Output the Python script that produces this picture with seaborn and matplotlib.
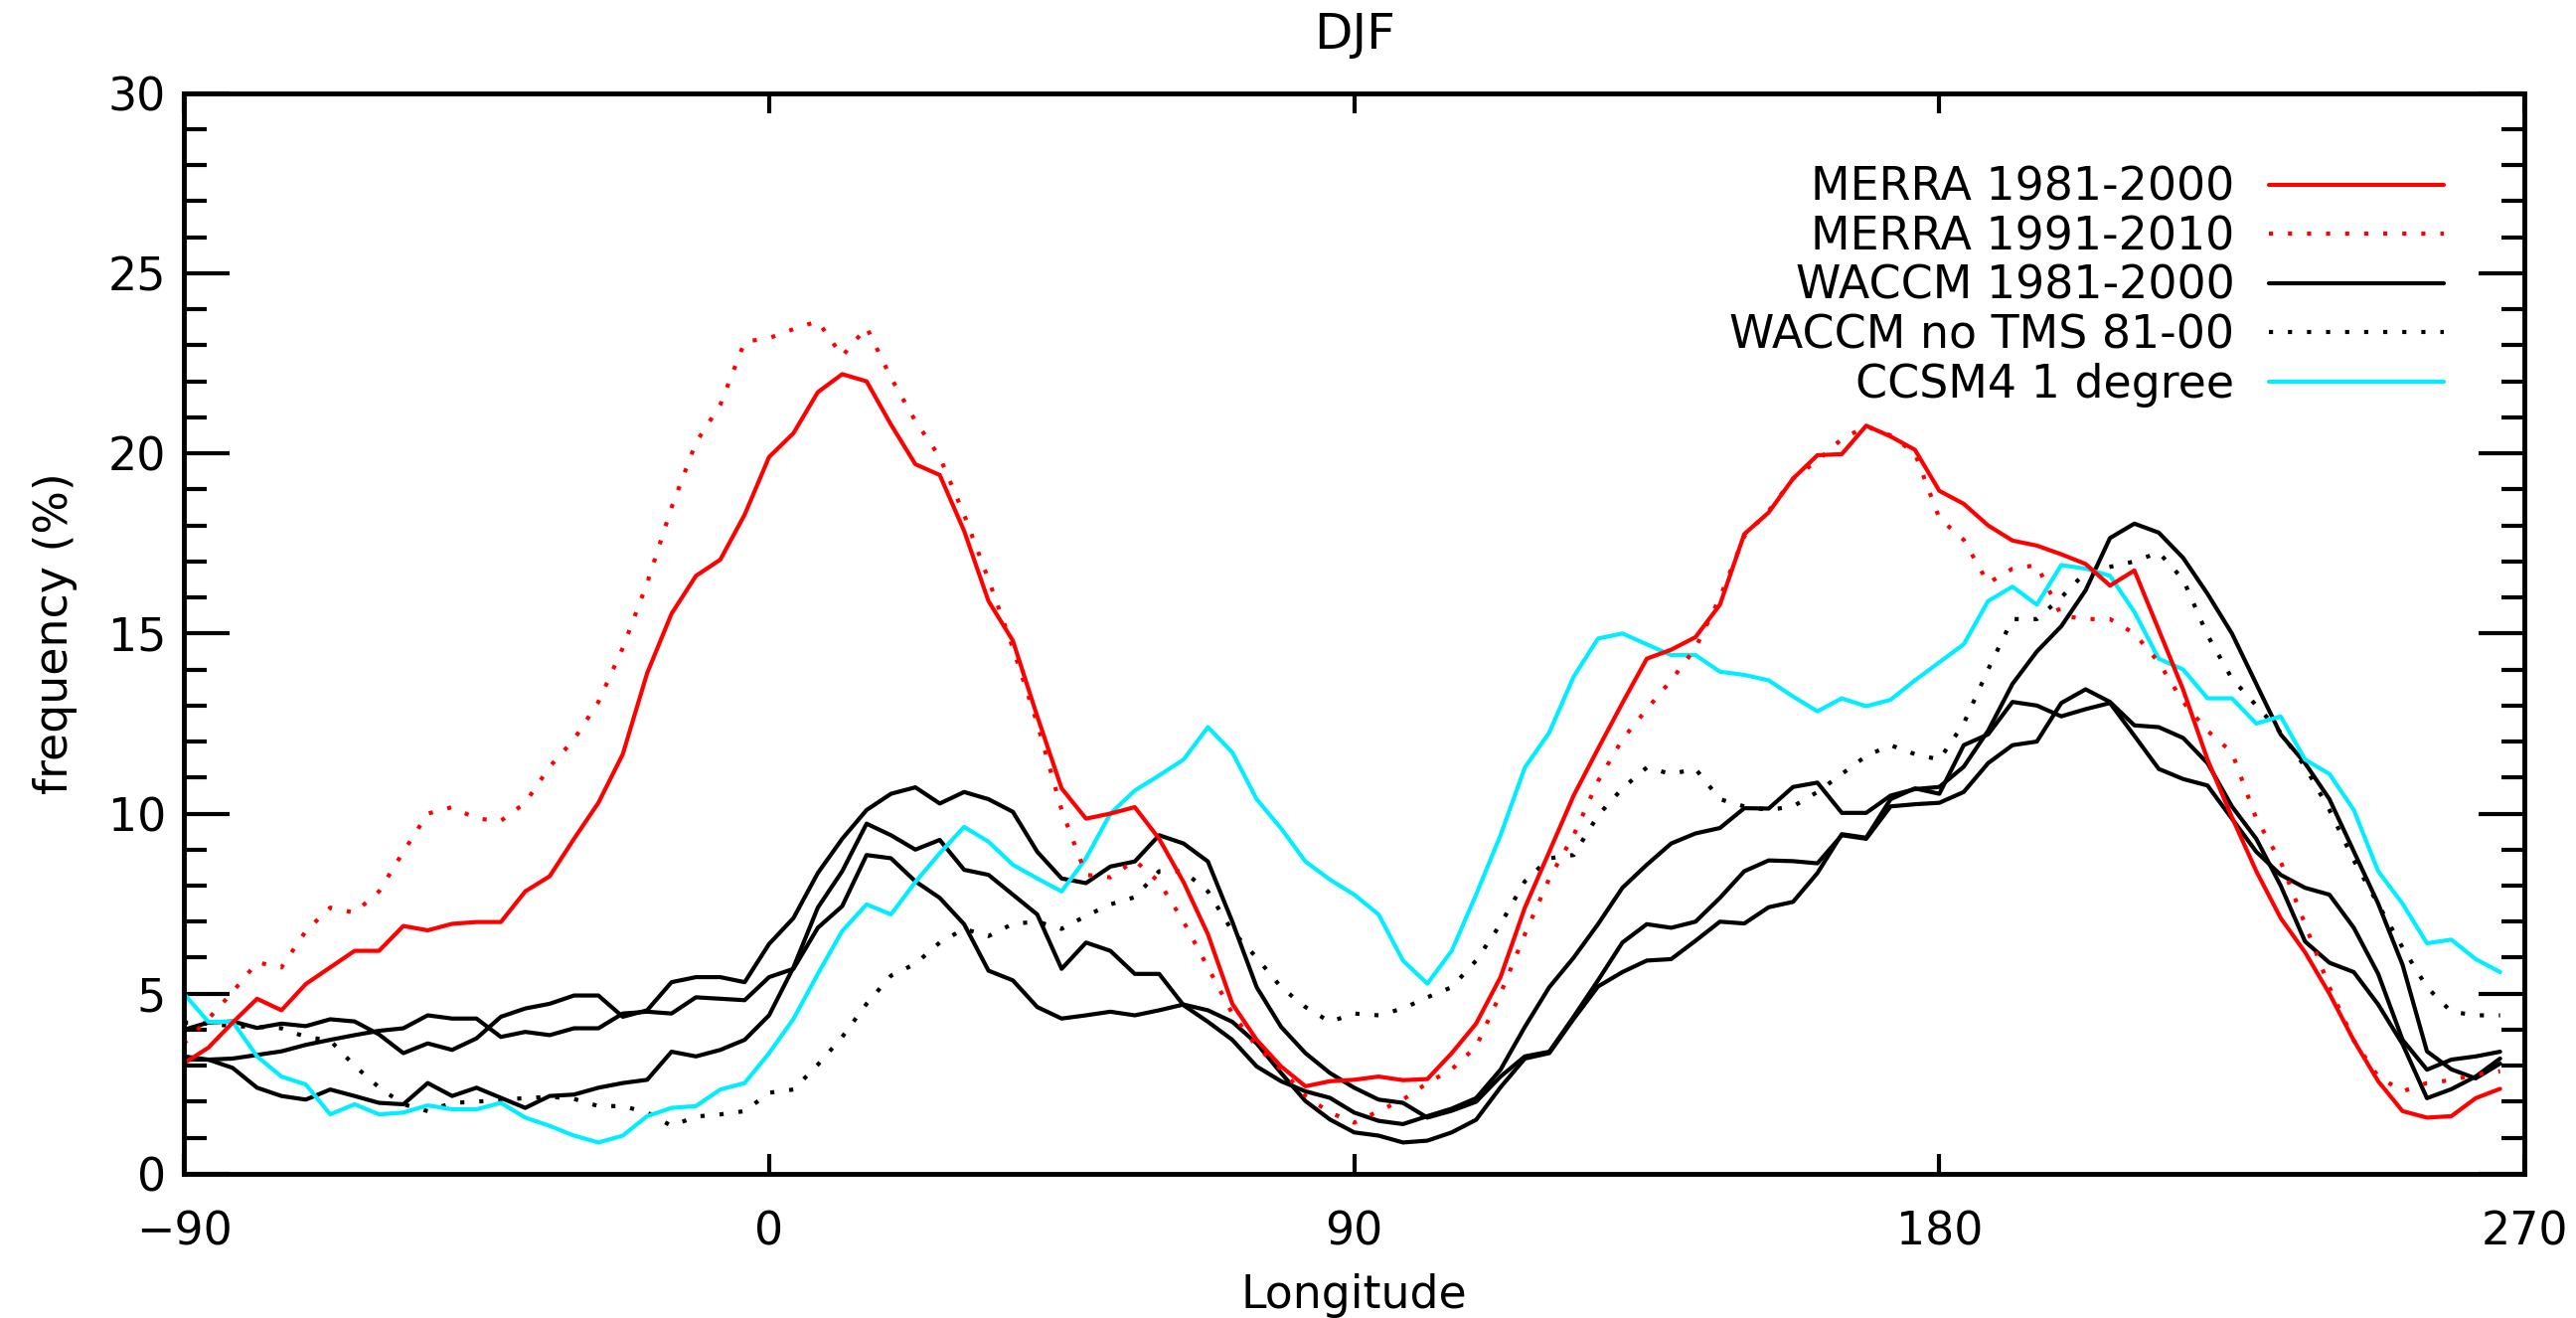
import numpy as np
import matplotlib
matplotlib.use("Agg")
import matplotlib.pyplot as plt
import seaborn as sns
from matplotlib.ticker import MultipleLocator

# longitude grid, 3.75 deg spacing (-90 ... 266.25)
lon = np.arange(-90, 270, 3.75)

merra_8100 = [3.07, 3.5, 4.2, 4.86, 4.54, 5.27, 5.73, 6.19, 6.19, 6.88,
              6.76, 6.94, 6.99, 6.99, 7.84, 8.26, 9.3, 10.3, 11.65, 13.9,
              15.55, 16.6, 17.05, 18.3, 19.9, 20.56, 21.7, 22.2, 22.0, 20.8,
              19.7, 19.4, 17.85, 15.9, 14.8, 12.7, 10.7, 9.86, 10.0, 10.18,
              9.3, 8.1, 6.65, 4.72, 3.72, 2.98, 2.43, 2.57, 2.61, 2.7,
              2.6, 2.63, 3.35, 4.17, 5.46, 7.39, 8.94, 10.5, 11.8, 13.07,
              14.3, 14.55, 14.9, 15.8, 17.76, 18.36, 19.3, 19.95, 19.98, 20.77,
              20.47, 20.1, 18.96, 18.6, 18.0, 17.58, 17.44, 17.2, 16.93, 16.33,
              16.75, 15.1, 13.44, 11.5, 9.9, 8.4, 7.1, 6.15, 5.0, 3.7,
              2.57, 1.74, 1.56, 1.6, 2.1, 2.36]

merra_9110 = [3.62, 4.3, 5.05, 5.87, 5.73, 6.74, 7.39, 7.25, 7.84, 8.94,
              10.0, 10.18, 9.86, 9.8, 10.3, 11.3, 12.06, 13.1, 14.6, 16.4,
              18.5, 20.3, 21.35, 23.1, 23.2, 23.45, 23.67, 22.7, 23.5, 22.1,
              20.9, 19.9, 18.3, 16.5, 14.6, 12.5, 10.1, 8.3, 8.23, 8.7,
              8.1, 7.0, 5.73, 4.45, 3.53, 2.9, 2.16, 1.7, 1.42, 1.74,
              2.06, 2.52, 2.9, 3.53, 5.0, 6.65, 8.2, 9.4, 10.9, 12.06,
              12.9, 13.7, 14.6, 16.0, 17.7, 18.4, 19.3, 19.8, 20.4, 20.75,
              20.5, 20.0, 18.2, 17.6, 16.4, 16.8, 16.9, 15.5, 15.4, 15.4,
              15.0, 14.2, 13.1, 12.3, 11.7, 9.86, 8.67, 6.93, 5.18, 3.7,
              2.7, 2.29, 2.52, 2.6, 2.75, 2.85]

# three WACCM 1981-2000 members
waccm_a = [4.0, 4.2, 4.23, 4.05, 4.17, 4.1, 4.29, 4.23, 3.87, 3.35,
           3.62, 3.44, 3.76, 4.36, 4.59, 4.72, 4.95, 4.95, 4.36, 4.54,
           5.32, 5.46, 5.46, 5.32, 6.38, 7.1, 8.35, 9.3, 10.1, 10.55,
           10.73, 10.28, 10.6, 10.4, 10.05, 8.94, 8.2, 8.07, 8.53, 8.67,
           9.4, 9.17, 8.67, 7.0, 5.18, 4.08, 3.35, 2.8, 2.39, 2.06,
           1.97, 1.56, 1.75, 2.0, 2.7, 3.26, 3.39, 4.36, 5.37, 6.42,
           6.93, 6.83, 7.0, 7.66, 8.4, 8.7, 8.68, 8.62, 9.4, 9.3,
           10.2, 10.26, 10.3, 10.6, 11.4, 11.9, 12.0, 13.07, 13.45, 13.1,
           12.45, 12.4, 12.1, 11.4, 10.2, 9.3, 8.0, 6.45, 5.86, 5.6,
           4.7, 3.6, 2.1, 2.35, 2.7, 3.2]

waccm_b = [3.17, 3.17, 3.2, 3.3, 3.4, 3.58, 3.72, 3.85, 3.97, 4.04,
           4.4, 4.31, 4.31, 3.8, 3.94, 3.85, 4.04, 4.04, 4.45, 4.5,
           4.45, 4.9, 4.86, 4.82, 5.46, 5.69, 6.83, 7.43, 8.85, 8.76,
           8.12, 7.66, 6.93, 5.64, 5.37, 4.63, 4.31, 4.4, 4.5, 4.4,
           4.54, 4.7, 4.54, 4.22, 3.62, 2.8, 2.02, 1.51, 1.15, 1.06,
           0.87, 0.92, 1.15, 1.5, 2.4, 3.2, 3.35, 4.3, 5.2, 5.6,
           5.92, 5.96, 6.47, 7.0, 6.95, 7.4, 7.55, 8.35, 9.43, 9.33,
           10.4, 10.7, 10.55, 11.9, 12.2, 13.1, 13.0, 12.7, 12.9, 13.07,
           12.16, 11.24, 10.96, 10.78, 9.86, 8.94, 8.3, 7.94, 7.75, 6.83,
           5.55, 3.72, 2.89, 3.17, 3.26, 3.39]

waccm_c = [3.26, 3.17, 2.94, 2.39, 2.16, 2.06, 2.34, 2.16, 1.97, 1.93,
           2.52, 2.16, 2.39, 2.11, 1.83, 2.16, 2.2, 2.39, 2.52, 2.61,
           3.39, 3.26, 3.44, 3.72, 4.4, 5.73, 7.39, 8.4, 9.72, 9.4,
           9.0, 9.27, 8.44, 8.3, 7.75, 7.2, 5.69, 6.42, 6.19, 5.55,
           5.55, 4.68, 4.22, 3.72, 2.98, 2.57, 2.29, 2.11, 1.7, 1.47,
           1.38, 1.6, 1.81, 2.1, 2.89, 4.08, 5.18, 6.0, 6.93, 7.94,
           8.58, 9.17, 9.45, 9.6, 10.15, 10.14, 10.74, 10.86, 10.02, 10.02,
           10.5, 10.68, 10.74, 11.3, 12.3, 13.6, 14.5, 15.2, 16.2, 17.65,
           18.05, 17.8, 17.1, 16.1, 15.0, 13.6, 12.2, 11.4, 10.4, 8.95,
           7.5, 5.8, 3.4, 2.9, 2.65, 3.06]

waccm_notms = [4.2, 4.17, 4.1, 4.08, 4.04, 3.8, 3.7, 3.0, 2.4, 1.93,
               1.74, 1.97, 2.0, 2.06, 2.1, 2.14, 2.08, 1.88, 1.88, 1.7,
               1.33, 1.59, 1.65, 1.74, 2.25, 2.34, 3.03, 3.8, 4.72, 5.5,
               5.83, 6.42, 6.8, 6.6, 6.94, 7.0, 6.8, 7.16, 7.48, 7.68,
               8.4, 8.4, 7.84, 6.74, 6.0, 5.18, 4.63, 4.22, 4.45, 4.4,
               4.59, 4.9, 5.18, 5.92, 6.93, 8.12, 8.76, 8.85, 9.95, 10.7,
               11.28, 11.1, 11.24, 10.4, 10.2, 10.1, 10.2, 10.6, 11.1, 11.6,
               11.9, 11.65, 11.5, 12.5, 14.0, 15.4, 15.4, 16.0, 16.7, 16.85,
               17.0, 17.25, 16.5, 14.95, 13.75, 13.0, 12.25, 11.3, 10.1, 8.7,
               7.48, 6.28, 5.18, 4.5, 4.4, 4.4]

ccsm4 = [5.0, 4.22, 4.22, 3.26, 2.7, 2.48, 1.65, 1.93, 1.65, 1.7,
         1.9, 1.79, 1.79, 1.97, 1.56, 1.33, 1.06, 0.87, 1.06, 1.6,
         1.83, 1.88, 2.34, 2.52, 3.35, 4.3, 5.55, 6.74, 7.48, 7.2,
         8.1, 8.9, 9.63, 9.22, 8.58, 8.2, 7.84, 8.76, 10.0, 10.64,
         11.06, 11.5, 12.4, 11.7, 10.4, 9.59, 8.67, 8.17, 7.75, 7.2,
         5.92, 5.28, 6.19, 7.75, 9.4, 11.28, 12.25, 13.8, 14.86, 15.0,
         14.7, 14.4, 14.4, 13.94, 13.85, 13.7, 13.25, 12.84, 13.2, 12.98,
         13.16, 13.7, 14.2, 14.7, 15.9, 16.3, 15.8, 16.9, 16.8, 16.6,
         15.6, 14.3, 14.0, 13.2, 13.2, 12.5, 12.7, 11.5, 11.1, 10.1,
         8.4, 7.5, 6.4, 6.5, 5.96, 5.6]

labels = ["MERRA 1981-2000", "MERRA 1991-2010", "WACCM 1981-2000",
          "WACCM no TMS 81-00", "CCSM4 1 degree"]

sns.set_theme(style="ticks")
plt.rcParams["font.family"] = ["DejaVu Sans"]
plt.rcParams["text.color"] = "black"
plt.rcParams["axes.labelcolor"] = "black"

fig = plt.figure(figsize=(25.92, 13.26), dpi=100)
ax = fig.add_axes([0.0714, 0.1094, 0.9086, 0.8199])

dotted = (0, (1, 3.6))
lw = 3.0
red = "#ff0000"
cyan = "#00eeff"


def draw(vals, color, ls):
    sns.lineplot(x=lon, y=vals, ax=ax, color=color, linewidth=lw,
                 linestyle=ls, sort=False, estimator=None, errorbar=None)
    return ax.lines[-1]


h_w = draw(waccm_a, "black", "-")
draw(waccm_b, "black", "-")
draw(waccm_c, "black", "-")
h_wn = draw(waccm_notms, "black", dotted)
h_c = draw(ccsm4, cyan, "-")
h_m2 = draw(merra_9110, red, dotted)
h_m1 = draw(merra_8100, red, "-")

ax.set_xlim(-90, 270)
ax.set_ylim(0, 30)
ax.set_xticks([-90, 0, 90, 180, 270])
ax.set_yticks(range(0, 31, 5))
ax.yaxis.set_minor_locator(MultipleLocator(1))

ax.tick_params(axis="both", which="both", direction="in", top=True, right=True,
               width=3, color="black", labelcolor="black", labelsize=33)
ax.tick_params(axis="x", which="major", length=14.5, pad=26)
ax.tick_params(axis="x", which="minor", bottom=False, top=False)
ax.tick_params(axis="y", which="major", length=33, pad=13)
ax.tick_params(axis="y", which="minor", length=16.5)
for s in ax.spines.values():
    s.set_linewidth(3.5)
    s.set_color("black")

ax.set_xlabel("Longitude", fontsize=33, labelpad=14)
ax.set_ylabel("frequency (%)", fontsize=33, labelpad=22)
ax.set_title("DJF", fontsize=36, pad=32)

leg = ax.legend([h_m1, h_m2, h_w, h_wn, h_c], labels, loc="upper right",
                bbox_to_anchor=(0.9656, 0.933), frameon=False, markerfirst=False,
                fontsize=33, handlelength=3.85, handletextpad=0.75,
                labelspacing=0.1, borderpad=0, borderaxespad=0)

fig.savefig("out.png", dpi=100)
plt.close(fig)
